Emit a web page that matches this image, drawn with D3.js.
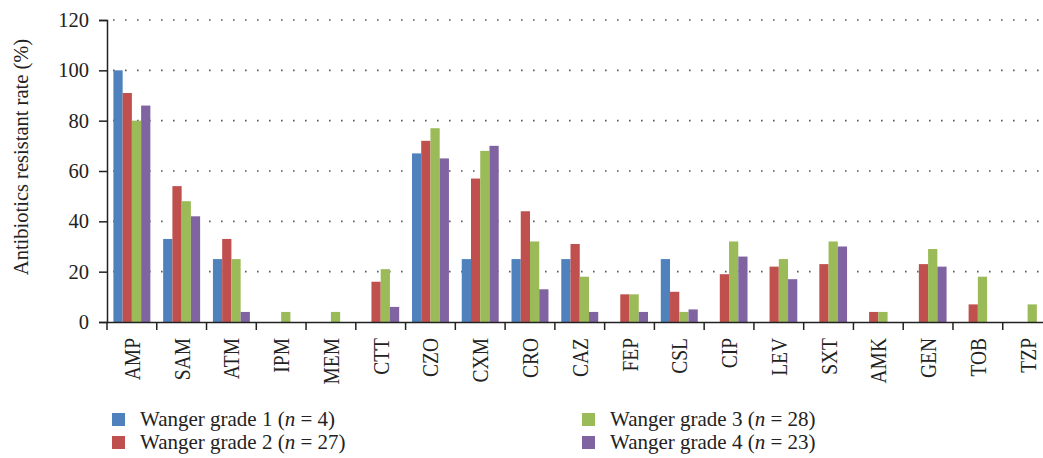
<!DOCTYPE html>
<html>
<head>
<meta charset="utf-8">
<script src="https://cdn.jsdelivr.net/npm/d3@7"></script>
<style>
  body { margin: 0; background: #fff; }
  svg { display: block; font-family: "Liberation Serif", "Times New Roman", serif; }
</style>
</head>
<body>
<svg id="chart" width="1043" height="458"></svg>
<script>
// данные
const categories = ["AMP", "SAM", "ATM", "IPM", "MEM", "CTT", "CZO", "CXM", "CRO", "CAZ",
    "FEP", "CSL", "CIP", "LEV", "SXT", "AMK", "GEN", "TOB", "TZP"];
const grade1 = [100, 33, 25, 0, 0, 0, 67, 25, 25, 25, 0, 25, 0, 0, 0, 0, 0, 0, 0];
const grade2 = [91, 54, 33, 0, 0, 16, 72, 57, 44, 31, 11, 12, 19, 22, 23, 4, 23, 7, 0];
const grade3 = [80, 48, 25, 4, 4, 21, 77, 68, 32, 18, 11, 4, 32, 25, 32, 4, 29, 18, 7];
const grade4 = [86, 42, 4, 0, 0, 6, 65, 70, 13, 4, 4, 5, 26, 17, 30, 0, 22, 0, 0];
const seriesNames = ["Wanger grade 1", "Wanger grade 2", "Wanger grade 3", "Wanger grade 4"];
const seriesN = [4, 27, 28, 23];
const yTicks = [0, 20, 40, 60, 80, 100, 120];

const colors = ["#4f81bd", "#c0504d", "#9bbb59", "#8064a2"];
const series = [grade1, grade2, grade3, grade4];

const svg = d3.select("#chart");
const mLeft = 107, mTop = 20, mBottom = 322, mRight = 1052.5;

let scaleX = d3.scaleBand()
    .domain(categories)
    .range([mLeft, mRight])
    .paddingInner(0)
    .paddingOuter(0);

let scaleY = d3.scaleLinear()
    .domain([0, 120])
    .range([mBottom, mTop]);

let scaleSub = d3.scaleBand()
    .domain(d3.range(series.length))
    .range([6.4, scaleX.bandwidth() - 6.4]);

// сетка (пунктир)
svg.append("g")
    .selectAll("line")
    .data(yTicks.filter(d => d > 0))
    .enter()
    .append("line")
    .attr("x1", mLeft + 6)
    .attr("x2", 1043)
    .attr("y1", d => scaleY(d))
    .attr("y2", d => scaleY(d))
    .attr("stroke", "#5a5a5a")
    .attr("stroke-width", 1.6)
    .attr("stroke-dasharray", "1.6,10.4");

// столбики
series.forEach((vals, i) => {
    svg.append("g")
        .selectAll("rect")
        .data(vals.map((v, j) => ({ cat: categories[j], v: v })).filter(d => d.v > 0))
        .enter()
        .append("rect")
        .attr("x", d => scaleX(d.cat) + scaleSub(i))
        .attr("width", scaleSub.bandwidth())
        .attr("y", d => scaleY(d.v))
        .attr("height", d => mBottom - scaleY(d.v))
        .attr("fill", colors[i]);
});

// ось Y
let axisY = d3.axisLeft(scaleY).tickValues(yTicks).tickSize(8).tickPadding(10);
let gy = svg.append("g")
    .attr("transform", `translate(${mLeft}, 0)`)
    .call(axisY);
gy.select(".domain").attr("stroke", "#222").attr("stroke-width", 1.5);
gy.selectAll(".tick line").attr("stroke", "#222").attr("stroke-width", 1.5);
gy.selectAll("text")
    .attr("font-family", "Liberation Serif")
    .attr("font-size", 20.5)
    .attr("fill", "#222");

// ось X
let axisX = d3.axisBottom(scaleX).tickSize(0).tickPadding(0);
let gx = svg.append("g")
    .attr("transform", `translate(0, ${mBottom})`)
    .call(axisX);
gx.select(".domain").attr("stroke", "#222").attr("stroke-width", 1.5);
gx.selectAll(".tick text")
    .attr("font-family", "Liberation Serif")
    .attr("font-size", 19.5)
    .attr("fill", "#222")
    .style("text-anchor", "end")
    .attr("dy", 0)
    .attr("transform", "translate(8, 16) rotate(-90) scale(1, 1.2)");

// засечки на границах категорий
svg.append("g")
    .selectAll("line")
    .data(categories.map(c => scaleX(c)))
    .enter()
    .append("line")
    .attr("x1", d => d)
    .attr("x2", d => d)
    .attr("y1", mBottom)
    .attr("y2", mBottom + 8)
    .attr("stroke", "#222")
    .attr("stroke-width", 1.5);

// подпись оси Y
svg.append("text")
    .attr("transform", `translate(28, 157) rotate(-90)`)
    .attr("text-anchor", "middle")
    .attr("font-size", 20.5)
    .attr("fill", "#222")
    .text("Antibiotics resistant rate (%)");

// легенда
const legendPos = [[112, 413], [112, 436], [582, 413], [582, 436]];
seriesNames.forEach((name, i) => {
    let g = svg.append("g").attr("transform", `translate(${legendPos[i][0]}, ${legendPos[i][1]})`);
    g.append("rect")
        .attr("width", 13)
        .attr("height", 13)
        .attr("fill", colors[i]);
    let t = g.append("text")
        .attr("x", 28)
        .attr("y", 13)
        .attr("font-size", 21)
        .attr("fill", "#222");
    t.append("tspan").text(name + " (");
    t.append("tspan").attr("font-style", "italic").text("n");
    t.append("tspan").text(" = " + seriesN[i] + ")");
});
</script>
</body>
</html>
